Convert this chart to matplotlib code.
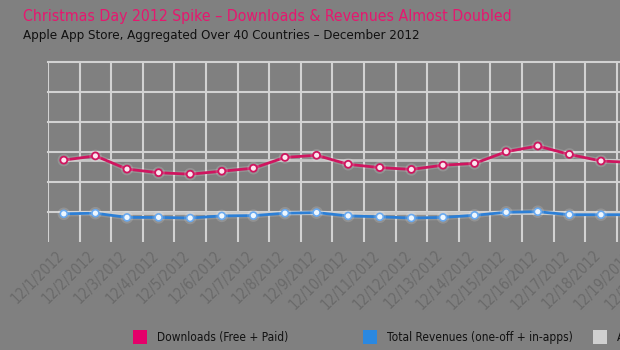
import matplotlib
matplotlib.use("Agg")
import matplotlib.pyplot as plt
import numpy as np
from matplotlib import font_manager
from matplotlib.patches import Rectangle
import matplotlib.patheffects as pe

# ---- data ----
dates = ['12/1/2012', '12/2/2012', '12/3/2012', '12/4/2012', '12/5/2012',
         '12/6/2012', '12/7/2012', '12/8/2012', '12/9/2012', '12/10/2012',
         '12/11/2012', '12/12/2012', '12/13/2012', '12/14/2012', '12/15/2012',
         '12/16/2012', '12/17/2012', '12/18/2012', '12/19/2012', '12/20/2012']
downloads = [2.73, 2.87, 2.43, 2.31, 2.26, 2.36, 2.46, 2.82, 2.89, 2.59,
             2.48, 2.42, 2.56, 2.62, 3.01, 3.20, 2.92, 2.70, 2.65, 2.68]
revenues = [0.94, 0.96, 0.82, 0.82, 0.80, 0.87, 0.88, 0.96, 0.98, 0.87,
            0.84, 0.80, 0.82, 0.89, 0.99, 1.01, 0.91, 0.91, 0.91, 0.92]
avg_downloads = [2.73] * len(dates)
avg_revenues = [0.96] * len(dates)
legend_labels = ['Downloads (Free + Paid)', 'Total Revenues (one-off + in-apps)', 'Average']

# ---- font ----
names = {f.name for f in font_manager.fontManager.ttflist}
if 'Liberation Sans Narrow' in names:
    FONT = ['Liberation Sans Narrow', 'DejaVu Sans']
    STRETCH = 'normal'
else:
    FONT = ['DejaVu Sans']
    STRETCH = 'condensed'
plt.rcParams['font.family'] = FONT
plt.rcParams['font.stretch'] = STRETCH

BG = '#808080'
MAGENTA = '#cf155f'
TITLE_MAG = '#e6176f'
BLUE = '#2c7fd6'
GRID = '#d2d2d2'
AVG = '#c6c6c6'

W, H = 620, 350
fig = plt.figure(figsize=(W / 100, H / 100), dpi=100, facecolor=BG)

n = len(dates)
step = 31.6
ax = fig.add_axes([48 / W, 108 / H, n * step / W, 180 / H])
ax.set_facecolor(BG)
ax.set_xlim(-0.5, n - 0.5)
ax.set_ylim(0, 6)
for s in ax.spines.values():
    s.set_visible(False)

x = np.arange(n)
ax.set_xticks(x)
ax.set_xticklabels(dates, rotation=45, ha='right', va='top',
                   fontsize=10.5, color='#6a6a6a')
for t in ax.get_xticklabels():
    t.set_x(t.get_position()[0])
ax.set_xticks(np.arange(n + 1) - 0.5, minor=True)
ax.tick_params(axis='x', which='both', length=0, pad=4)
ax.set_yticks([1, 2, 3, 4, 5, 6])
ax.tick_params(axis='y', length=0, labelleft=False)
ax.grid(axis='x', which='minor', color=GRID, lw=1.5, zorder=0)
ax.grid(axis='y', which='major', color=GRID, lw=1.5, zorder=0)
ax.grid(axis='x', which='major', visible=False)
ax.set_axisbelow(True)
for gl in ax.get_ygridlines():
    gl.set_clip_on(False)

# shift tick labels slightly right
from matplotlib.transforms import ScaledTranslation
off = ScaledTranslation(3 / 100, 0, fig.dpi_scale_trans)
for t in ax.get_xticklabels():
    t.set_transform(t.get_transform() + off)

# average lines
ax.plot(x, avg_downloads, color=AVG, lw=2, zorder=2)
ax.plot(x, avg_revenues, color=AVG, lw=2, zorder=2)

glow = [pe.Stroke(linewidth=4, foreground='#ffffff', alpha=0.15), pe.Normal()]
ax.plot(x, downloads, color=MAGENTA, lw=2, zorder=3,
        marker='o', ms=5, mfc='#fbe6ef', mec=MAGENTA, mew=1.3,
        path_effects=glow)
ax.plot(x, revenues, color=BLUE, lw=2, zorder=3,
        marker='o', ms=5, mfc='#eef7ff', mec='#6aaaf0', mew=1.2,
        path_effects=glow)

# titles
fig.text(23 / W, 1 - 16 / H, 'Christmas Day 2012 Spike – Downloads & Revenues Almost Doubled',
         color=TITLE_MAG, fontsize=11.3, ha='left', va='center')
fig.text(23 / W, 1 - 35 / H, 'Apple App Store, Aggregated Over 40 Countries – December 2012',
         color='#111111', fontsize=9.5, ha='left', va='center')

# legend
leg_colors = ['#e5006a', '#2a88e0', '#d0d0d0']
sq_x = [133, 363, 593]
for lab, c, sx in zip(legend_labels, leg_colors, sq_x):
    fig.patches.append(Rectangle((sx / W, (H - 344) / H), 14 / W, 14 / H,
                                 transform=fig.transFigure, facecolor=c,
                                 edgecolor='none'))
    fig.text((sx + 24) / W, 1 - 337 / H, lab, color='#111111', fontsize=8.6,
             ha='left', va='center')

fig.savefig('out.png', dpi=100, facecolor=BG)
